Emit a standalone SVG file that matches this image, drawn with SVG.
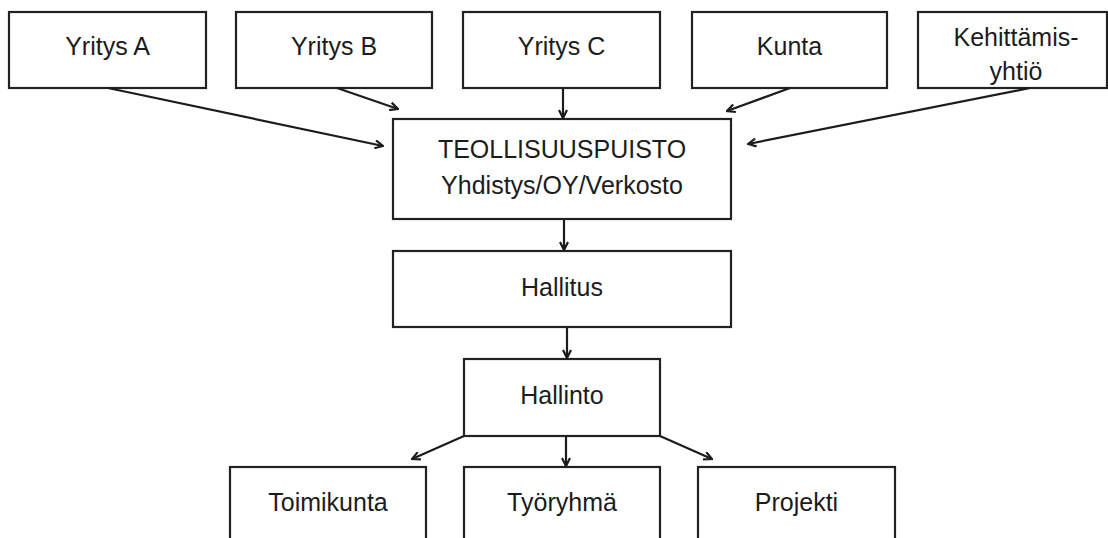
<svg xmlns="http://www.w3.org/2000/svg" width="1108" height="538" viewBox="0 0 1108 538">
  <style>
    .box { fill: #ffffff; stroke: #222222; stroke-width: 2.2; }
    .lbl { font-family: "Liberation Sans", Arial, sans-serif; font-size: 25px; fill: #1c1c1c; text-anchor: middle; }
    .edge { fill: none; stroke: #1c1c1c; stroke-width: 2.2; marker-end: url(#arrow); }
  </style>
  <defs>
    <marker id="arrow" viewBox="0 0 10 10" refX="9" refY="5" markerWidth="10" markerHeight="10" markerUnits="userSpaceOnUse" orient="auto">
      <path d="M1,1 L9,5 L1,9" fill="none" stroke="#1c1c1c" stroke-width="2.2" stroke-linejoin="miter"/>
    </marker>
  </defs>
  <rect width="1108" height="538" fill="#ffffff"/>

  <!-- members -->
  <g id="yritys-a">
    <rect class="box" x="9" y="12" width="197" height="76"/>
    <text class="lbl" x="107.5" y="55">Yritys A</text>
  </g>
  <g id="yritys-b">
    <rect class="box" x="236" y="12" width="196" height="76"/>
    <text class="lbl" x="334" y="55">Yritys B</text>
  </g>
  <g id="yritys-c">
    <rect class="box" x="463" y="12" width="197" height="76"/>
    <text class="lbl" x="561.5" y="55">Yritys C</text>
  </g>
  <g id="kunta">
    <rect class="box" x="692" y="12" width="195" height="76"/>
    <text class="lbl" x="789.5" y="55">Kunta</text>
  </g>
  <g id="kehittamisyhtio">
    <rect class="box" x="918" y="12" width="189" height="76"/>
    <text class="lbl" x="1016" y="46">Kehittämis-</text>
    <text class="lbl" x="1016" y="80">yhtiö</text>
  </g>

  <!-- organisation -->
  <g id="teollisuuspuisto">
    <rect class="box" x="393" y="119" width="338" height="100"/>
    <text class="lbl" x="562" y="158">TEOLLISUUSPUISTO</text>
    <text class="lbl" x="562" y="194">Yhdistys/OY/Verkosto</text>
  </g>
  <g id="hallitus">
    <rect class="box" x="393" y="251" width="338" height="76"/>
    <text class="lbl" x="562" y="296">Hallitus</text>
  </g>
  <g id="hallinto">
    <rect class="box" x="464" y="359" width="196" height="77"/>
    <text class="lbl" x="562" y="404">Hallinto</text>
  </g>

  <!-- working bodies -->
  <g id="toimikunta">
    <rect class="box" x="230" y="467" width="196" height="90"/>
    <text class="lbl" x="328" y="511">Toimikunta</text>
  </g>
  <g id="tyoryhma">
    <rect class="box" x="464" y="467" width="196" height="90"/>
    <text class="lbl" x="562" y="511">Työryhmä</text>
  </g>
  <g id="projekti">
    <rect class="box" x="698" y="467" width="197" height="90"/>
    <text class="lbl" x="796.5" y="511">Projekti</text>
  </g>

  <!-- connectors -->
  <g id="connectors">
    <line class="edge" x1="108" y1="88" x2="383" y2="146"/>
    <line class="edge" x1="337" y1="88" x2="398" y2="109"/>
    <line class="edge" x1="563" y1="88" x2="563" y2="118"/>
    <line class="edge" x1="790" y1="88" x2="727" y2="111"/>
    <line class="edge" x1="1030" y1="88" x2="748" y2="144"/>
    <line class="edge" x1="564" y1="219" x2="564" y2="250"/>
    <line class="edge" x1="567" y1="327" x2="567" y2="358"/>
    <line class="edge" x1="464" y1="436" x2="412" y2="459"/>
    <line class="edge" x1="566" y1="436" x2="566" y2="466"/>
    <line class="edge" x1="660" y1="436" x2="712" y2="459"/>
  </g>
</svg>
